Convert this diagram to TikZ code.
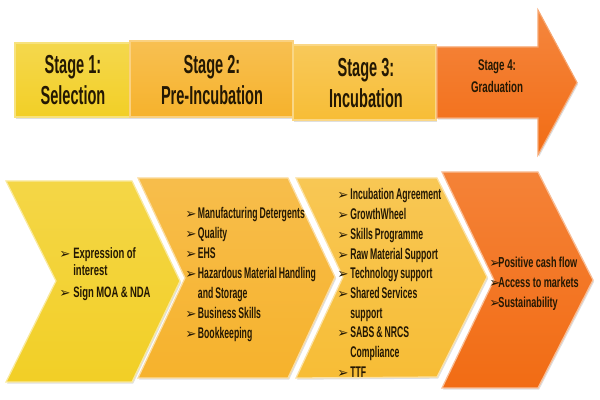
\documentclass[tikz,border=0pt]{standalone}
\usepackage{fontspec}
\newfontfamily\narrowfont{Liberation Sans}[FakeStretch=0.56]
\newfontfamily\midfont{Liberation Sans}[FakeStretch=0.63]
\newfontfamily\dingfont{DejaVu Sans}
\usepackage{tikz}
\usetikzlibrary{shadows}

\definecolor{selcol}{HTML}{F2CF26}
\definecolor{precol}{HTML}{F6B22C}
\definecolor{inccol}{HTML}{F7BD36}
\definecolor{gradcol}{HTML}{F26C14}
\definecolor{txtcol}{HTML}{241803}

\newcommand\bul[1][7pt]{\makebox[#1][l]{\dingfont\fontsize{9.5}{9.5}\selectfont ➢}}
\newcommand\cont[1][7pt]{\hspace*{#1}}
\newcommand\setsp[1]{\spaceskip=#1\relax}

\begin{document}
\begin{tikzpicture}[x=0.025cm,y=-0.025cm,
  stagebox/.style={draw=#1!60!white,line width=0.8pt,top color=#1!82!white,bottom color=#1,
    drop shadow={opacity=0.25,shadow xshift=0.8pt,shadow yshift=-1.2pt}},
  chevron/.style={draw=#1!45!white,line width=0.9pt,line join=miter,top color=#1!85!white,bottom color=#1,
    drop shadow={opacity=0.25,shadow xshift=0.8pt,shadow yshift=-1.2pt}},
  stagetext/.style={align=center,inner sep=0pt,text=txtcol,font=\narrowfont\bfseries\fontsize{18.5}{22}\selectfont},
  listtext/.style={anchor=base west,inner sep=0pt,align=left,text width=130pt,text=txtcol,
    execute at begin node=\setsp{#1}},
  listtext/.default=1.4pt]
\useasboundingbox (0,0) rectangle (600,400);

\path[stagebox=selcol] (15,43) rectangle (130,117);
\path[stagebox=precol] (130,41) rectangle (293,117);
\path[stagebox=inccol] (293,45) rectangle (436,120);
\path[stagebox=gradcol] (437,47) -- (538,47) -- (538,10) -- (577,82.5) -- (538,155) -- (538,118) -- (437,118) -- cycle;

\node[stagetext] (sel) at (73,80) {Stage 1:\\Selection};
\node[stagetext] (pre) at (212,80) {Stage 2:\\Pre-Incubation};
\node[stagetext] (inc) at (366,83) {Stage 3:\\Incubation};
\node[stagetext,font=\midfont\bfseries\fontsize{11}{15.6}\selectfont] (grad) at (497,76) {Stage 4:\\Graduation};

\path[chevron=selcol] (6,181) -- (132,181) -- (180,281) -- (132,382) -- (6,382) -- (56,281) -- cycle;
\path[chevron=precol] (138,178) -- (288,178) -- (335,277) -- (288,378) -- (138,378) -- (185,278) -- cycle;
\path[chevron=inccol] (296,178) -- (437,178) -- (487,277) -- (437,377) -- (296,378) -- (343,277) -- cycle;
\path[chevron=gradcol] (442,172) -- (538,172) -- (593,280) -- (538,388) -- (442,388) -- (494,280) -- cycle;

\node[listtext=1.7pt,font=\midfont\bfseries\fontsize{10.7}{11.4}\selectfont] (sellist) at (59,259)
  {\bul[10pt]Expression of\\ \cont[10pt]interest\\[4.3pt]
   \bul[10pt]Sign MOA \& NDA};

\node[listtext,font=\narrowfont\bfseries\fontsize{11}{14.2}\selectfont] (prelist) at (185,219)
  {\bul[9pt]Manufacturing Detergents\\
   \bul[9pt]Quality\\
   \bul[9pt]EHS\\
   \bul[9pt]Hazardous Material Handling\\ \cont[9pt]and Storage\\
   \bul[9pt]Business Skills\\
   \bul[9pt]Bookkeeping};

\node[listtext,font=\narrowfont\bfseries\fontsize{11}{14}\selectfont] (inclist) at (337,200)
  {\bul[9.3pt]Incubation Agreement\\
   \bul[9.3pt]GrowthWheel\\
   \bul[9.3pt]Skills Programme\\
   \bul[9.3pt]Raw Material Support\\
   \bul[9.3pt]Technology support\\
   \bul[9.3pt]Shared Services\\ \cont[9.3pt]support\\
   \bul[9.3pt]SABS \& NRCS\\ \cont[9.3pt]Compliance\\
   \bul[9.3pt]TTF};

\node[listtext=1.7pt,font=\midfont\bfseries\fontsize{10.3}{13.9}\selectfont] (gradlist) at (489,268)
  {\bul[6.5pt]Positive cash flow\\
   \bul[6.5pt]Access to markets\\
   \bul[6.5pt]Sustainability};
\end{tikzpicture}
\end{document}
